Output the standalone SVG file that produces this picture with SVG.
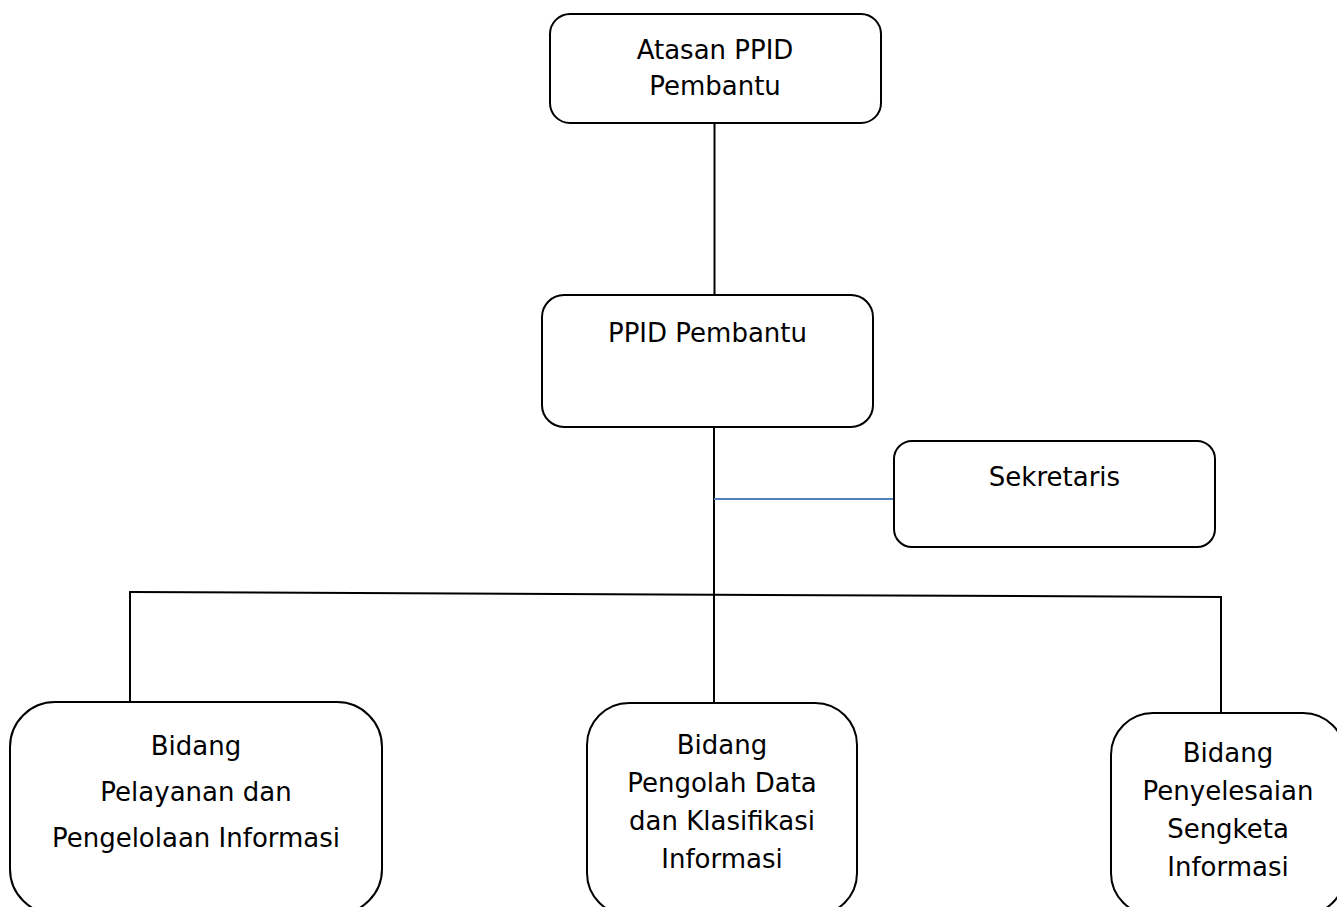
<svg xmlns="http://www.w3.org/2000/svg" width="1337" height="907" viewBox="0 0 1337 907">
<style>
.box{fill:#fff;stroke:#000;stroke-width:2}
.t{font-family:"DejaVu Sans","Liberation Sans",sans-serif;font-size:26px;fill:#000;text-anchor:middle}
.tb{font-size:26px}
.c{stroke:#000;stroke-width:2;fill:none}
.cb{stroke:#4f81bd;stroke-width:2;fill:none}
</style>
<rect width="1337" height="907" fill="#fff"/>
<g id="connectors">
<line class="c" x1="714.5" y1="123" x2="714.5" y2="295"/>
<line class="c" x1="714" y1="424" x2="714" y2="703"/>
<line class="cb" x1="714" y1="499" x2="894" y2="499"/>
<line class="c" x1="130" y1="592" x2="1221" y2="597"/>
<line class="c" x1="130" y1="591" x2="130" y2="702"/>
<line class="c" x1="1221" y1="596" x2="1221" y2="713"/>
</g>
<g id="atasan">
<rect class="box" x="550" y="14" width="331" height="109" rx="20"/>
<text class="t" x="715" y="59">Atasan PPID</text>
<text class="t" x="715" y="95">Pembantu</text>
</g>
<g id="ppid">
<rect class="box" x="542" y="295" width="331" height="132" rx="22"/>
<text class="t" x="707.5" y="342">PPID Pembantu</text>
</g>
<g id="sekretaris">
<rect class="box" x="894" y="441" width="321" height="106" rx="18"/>
<text class="t" x="1054.5" y="486">Sekretaris</text>
</g>
<g id="bidang-pelayanan">
<rect class="box" x="10" y="702" width="372" height="212" rx="45"/>
<text class="t tb" x="196" y="755">Bidang</text>
<text class="t tb" x="196" y="801">Pelayanan dan</text>
<text class="t tb" x="196" y="847">Pengelolaan Informasi</text>
</g>
<g id="bidang-pengolah">
<rect class="box" x="587" y="703" width="270" height="212" rx="42"/>
<text class="t tb" x="722" y="754">Bidang</text>
<text class="t tb" x="722" y="792">Pengolah Data</text>
<text class="t tb" x="722" y="830">dan Klasifikasi</text>
<text class="t tb" x="722" y="868">Informasi</text>
</g>
<g id="bidang-penyelesaian">
<rect class="box" x="1111" y="713" width="234" height="202" rx="42"/>
<text class="t tb" x="1228" y="762">Bidang</text>
<text class="t tb" x="1228" y="800">Penyelesaian</text>
<text class="t tb" x="1228" y="838">Sengketa</text>
<text class="t tb" x="1228" y="876">Informasi</text>
</g>
</svg>
